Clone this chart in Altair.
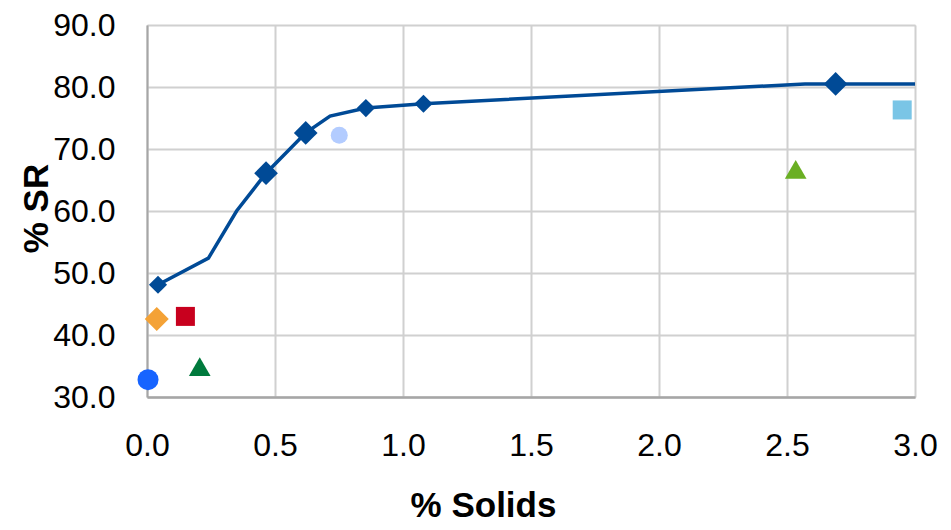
import altair as alt
import pandas as pd

# Fitted curve (dark blue line)
line_x = [0.043, 0.24, 0.35, 0.465, 0.62, 0.715, 0.855, 1.08, 2.57, 2.69, 3.0]
line_y = [48.1, 52.4, 60.0, 66.1, 72.6, 75.3, 76.6, 77.3, 80.5, 80.5, 80.5]

# Diamond markers on the curve
marker_x = [0.043, 0.465, 0.62, 0.855, 1.08, 2.69]
marker_y = [48.1, 66.1, 72.6, 76.6, 77.3, 80.5]

# Individual points
blue_circle = ([0.004], [32.8])
orange_diamond = ([0.038], [42.6])
red_square = ([0.15], [43.0])
green_triangle = ([0.206], [34.9])
lightblue_circle = ([0.751], [72.2])
lime_triangle = ([2.534], [66.7])
sky_square = ([2.95], [76.3])

x_ticks = [0.0, 0.5, 1.0, 1.5, 2.0, 2.5, 3.0]
y_ticks = [30, 40, 50, 60, 70, 80, 90]

FONT = "Liberation Sans"

xscale = alt.Scale(domain=[0, 3], nice=False, zero=False)
yscale = alt.Scale(domain=[30, 90], nice=False, zero=False)

x_axis = alt.Axis(
    title="% Solids", values=x_ticks, format=".1f",
    labelFont=FONT, labelFontSize=32, labelColor="#000000", labelPadding=33,
    ticks=False, domainColor="#A6A6A6", domainWidth=2.5,
    gridColor="#D0D0D0", gridWidth=2,
    titleFont=FONT, titleFontSize=35, titleFontWeight="bold", titleColor="#000000",
    titleX=336, titleY=91, labelFlush=False,
)
y_axis = alt.Axis(
    title="% SR", values=y_ticks, format=".1f",
    labelFont=FONT, labelFontSize=32, labelColor="#000000", labelPadding=32,
    ticks=False, domainColor="#A6A6A6", domainWidth=2,
    gridColor="#D0D0D0", gridWidth=2,
    titleFont=FONT, titleFontSize=35, titleFontWeight="bold", titleColor="#000000",
    titleX=-93, titleY=183, labelFlush=False,
)

line_df = pd.DataFrame({"x": line_x, "y": line_y})
marker_df = pd.DataFrame({"x": marker_x, "y": marker_y, "i": list(range(len(marker_x)))})

line = alt.Chart(line_df).mark_line(color="#004A96", strokeWidth=3.5).encode(
    x=alt.X("x:Q", scale=xscale, axis=x_axis),
    y=alt.Y("y:Q", scale=yscale, axis=y_axis),
)

markers = alt.Chart(marker_df).mark_point(
    shape="diamond", filled=True, opacity=1, color="#004A96"
).encode(
    x=alt.X("x:Q", scale=xscale),
    y=alt.Y("y:Q", scale=yscale),
    size=alt.condition(
        alt.FieldOneOfPredicate(field="i", oneOf=[1, 2, 5]),
        alt.value(560), alt.value(330)
    ),
)


def pt(data, shape, color, size):
    df = pd.DataFrame({"x": data[0], "y": data[1]})
    return alt.Chart(df).mark_point(
        shape=shape, filled=True, opacity=1, color=color, size=size
    ).encode(
        x=alt.X("x:Q", scale=xscale),
        y=alt.Y("y:Q", scale=yscale),
    )


layers = [
    line,
    markers,
    pt(blue_circle, "circle", "#1764FF", 441),
    pt(orange_diamond, "diamond", "#F4A236", 576),
    pt(red_square, "square", "#C8001E", 361),
    pt(green_triangle, "triangle-up", "#007A3D", 470),
    pt(lightblue_circle, "circle", "#B3CCFF", 289),
    pt(lime_triangle, "triangle-up", "#6AAF23", 470),
    pt(sky_square, "square", "#7AC5E6", 361),
]

chart = alt.layer(*layers).properties(
    width=768, height=372,
    autosize=alt.AutoSizeParams(type="none"),
    padding={"left": 139, "top": 17, "right": 28, "bottom": 125},
).configure_view(stroke=None).configure(background="white")

chart.save("out.html", embed_options={"renderer": "svg", "actions": False})
